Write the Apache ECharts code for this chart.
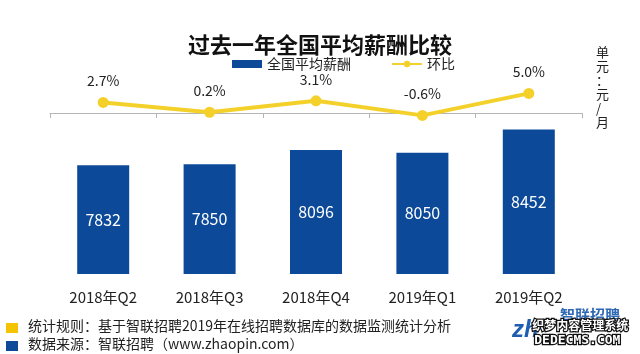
<!DOCTYPE html>
<html>
<head>
<meta charset="utf-8">
<script src="https://cdn.jsdelivr.net/npm/echarts@6/dist/echarts.min.js"></script>
<style>
  html, body { margin: 0; padding: 0; background: #fff; }
  #chart { width: 640px; height: 354px; }
</style>
</head>
<body>
<div id="chart"></div>
<script>
const quarters = ['2018年Q2', '2018年Q3', '2018年Q4', '2019年Q1', '2019年Q2']
const avgSalary = [7832, 7850, 8096, 8050, 8452]
const momChange = [2.7, 0.2, 3.1, -0.6, 5.0]

const blue = '#0c4a99'
const yellow = '#f4d12a'
const font = '"Noto Sans CJK SC", "Noto Sans", sans-serif'

const chart = echarts.init(document.getElementById('chart'))

chart.setOption({
  backgroundColor: '#fff',
  textStyle: { fontFamily: font },
  title: {
    text: '过去一年全国平均薪酬比较',
    left: 'center',
    top: 29,
    textStyle: { color: '#111', fontSize: 22, fontWeight: 'bold', fontFamily: font }
  },
  legend: {
    left: 227,
    top: 52,
    itemWidth: 30,
    itemHeight: 8,
    itemGap: 40,
    textStyle: { color: '#222', fontSize: 14, fontFamily: font },
    data: [
      { name: '全国平均薪酬', icon: 'rect' },
      { name: '环比' }
    ]
  },
  grid: { left: 50, right: 58, top: 40, bottom: 80 },
  xAxis: {
    type: 'category',
    data: quarters,
    axisLine: { lineStyle: { color: '#b5b5b5', width: 1 } },
    axisTick: { show: true, length: 5, lineStyle: { color: '#b5b5b5' } },
    axisLabel: { color: '#222', fontSize: 15, margin: 16, fontFamily: font }
  },
  yAxis: [
    { type: 'value', min: 5950, max: 10000, show: false },
    { type: 'value', min: -41, max: 18.6, show: false }
  ],
  series: [
    {
      name: '全国平均薪酬',
      type: 'bar',
      barWidth: 52,
      yAxisIndex: 0,
      itemStyle: { color: blue },
      label: {
        show: true,
        position: 'inside',
        color: '#fff',
        fontSize: 16,
        fontFamily: font
      },
      data: avgSalary
    },
    {
      name: '环比',
      type: 'line',
      yAxisIndex: 1,
      symbol: 'circle',
      symbolSize: 11,
      lineStyle: { color: yellow, width: 4 },
      itemStyle: { color: yellow },
      label: {
        show: true,
        position: 'top',
        distance: 9,
        color: '#222',
        fontSize: 14,
        fontFamily: font,
        formatter: p => p.value.toFixed(1) + '%'
      },
      data: momChange
    }
  ],
  graphic: [
    {
      type: 'text',
      left: 596,
      top: 45,
      style: {
        text: '单\n元\n：\n元\n/\n月',
        fill: '#222',
        fontSize: 13,
        lineHeight: 14,
        align: 'center',
        fontFamily: font
      }
    },
    { type: 'rect', shape: { x: 6, y: 323, width: 12, height: 10 }, style: { fill: '#f5c400' } },
    {
      type: 'text',
      left: 28,
      top: 319,
      style: { text: '统计规则：基于智联招聘2019年在线招聘数据库的数据监测统计分析', fill: '#222', fontSize: 14, fontFamily: font }
    },
    { type: 'rect', shape: { x: 6, y: 341, width: 12, height: 10 }, style: { fill: blue } },
    {
      type: 'text',
      left: 28,
      top: 337,
      style: { text: '数据来源：智联招聘（www.zhaopin.com）', fill: '#222', fontSize: 14, fontFamily: font }
    },
    // logo and watermark in the corner
    {
      type: 'text',
      left: 560,
      top: 308,
      style: { text: '智联招聘', fill: '#2f68b3', fontSize: 15, fontWeight: 'bold', fontFamily: font }
    },
    {
      type: 'text',
      left: 512,
      top: 318,
      style: { text: 'zh', fill: '#1e5db0', fontSize: 24, fontWeight: 'bold', fontStyle: 'italic', fontFamily: 'Liberation Sans' }
    },
    {
      type: 'text',
      left: 531,
      top: 318,
      style: { text: '织梦内容管理系统', fill: '#fff', stroke: '#111', lineWidth: 2.5, fontSize: 12, fontWeight: 'bold', fontFamily: font }
    },
    {
      type: 'text',
      left: 533,
      top: 333,
      style: { text: 'DEDECMS.COM', fill: '#fff', stroke: '#111', lineWidth: 2.5, fontSize: 13, fontWeight: 'bold', fontFamily: 'DejaVu Sans Mono' }
    }
  ]
})
</script>
</body>
</html>
